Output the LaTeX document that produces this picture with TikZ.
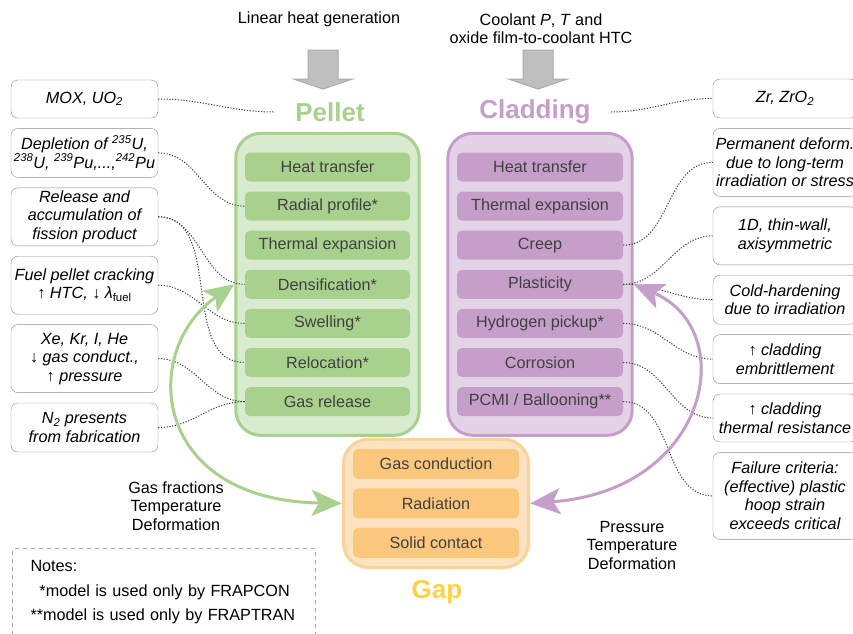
\documentclass[tikz,border=0pt]{standalone}
\usepackage{fontspec}
\setmainfont{Liberation Sans}
\usepackage{xcolor}
\usepackage{tikz}
\usetikzlibrary{arrows.meta,positioning,fit,backgrounds}

\definecolor{pelletgreen}{HTML}{A9D18E}
\definecolor{pelletbg}{HTML}{D9EBCE}
\definecolor{cladpurple}{HTML}{C59FCA}
\definecolor{cladbg}{HTML}{E4D3E7}
\definecolor{gaporange}{HTML}{FBC77C}
\definecolor{gapbg}{HTML}{FDE3C1}
\definecolor{gapline}{HTML}{FBD396}
\definecolor{gapyellow}{HTML}{FFD23F}
\definecolor{itemtext}{HTML}{404040}

\begin{document}
\begin{tikzpicture}[
  x=1pt, y=-1pt,
  node distance=10pt,
  fact/.style={draw=gray!90, rounded corners=7pt, align=center, inner xsep=2pt,
               inner ysep=2pt, font=\fontsize{16.2}{18.5}\selectfont\itshape},
  leftfact/.style={fact, minimum width=147pt},
  rightfact/.style={fact, minimum width=144pt},
  item/.style={rounded corners=5pt, minimum height=29pt, inner sep=0pt,
               text=itemtext, font=\fontsize{16.2}{18.5}\selectfont},
  pitem/.style={item, fill=pelletgreen, minimum width=165pt},
  citem/.style={item, fill=cladpurple, minimum width=166pt},
  gitem/.style={item, fill=gaporange, minimum width=166pt, minimum height=30pt},
  panel/.style={rounded corners=25pt, line width=3pt, inner xsep=9pt, inner ysep=19pt},
  title/.style={font=\fontsize{26}{30}\selectfont\bfseries, inner xsep=20pt},
  lbl/.style={align=center, font=\fontsize{16.2}{18.5}\selectfont},
  link/.style={dash pattern=on 1.2pt off 1.6pt, line width=1pt, draw=black!75},
  flow/.style={{Stealth[length=30pt,width=26pt,inset=7pt]}-{Stealth[length=30pt,width=26pt,inset=7pt]},
               line width=3pt},
  blockarrow/.style={fill=gray!50, draw=gray!65, line width=1pt},
  notes/.style={draw=gray!70, line width=1pt, dash pattern=on 4pt off 4pt, align=left,
                text width=267pt, font=\fontsize{16.2}{18.5}\selectfont},
]
\useasboundingbox (0,0) rectangle (853,633);

% inputs on top
\node[lbl] (heatlbl) at (319,19) {Linear heat generation};
\node[lbl] (coollbl) at (541,28.5) {Coolant \textit{P}, \textit{T} and\\oxide film-to-coolant HTC};
\foreach \cx in {323,538}
  \draw[blockarrow] (\cx-15,50) -- (\cx+15,50) -- (\cx+15,79) -- (\cx+29.5,79)
    -- (\cx,89) -- (\cx-29.5,79) -- (\cx-15,79) -- cycle;

% titles
\node[title, text=pelletgreen] (ptitle) at (330,112) {Pellet};
\node[title, text=cladpurple] (ctitle) at (535,112) {Cladding};
\node[title, text=gapyellow] (gtitle) at (437,592) {Gap};

% pellet models
\node[pitem] (p1) at (327.5,167) {Heat transfer};
\node[pitem, below=9.7pt of p1] (p2) {Radial profile*};
\node[pitem, below=9.7pt of p2] (p3) {Thermal expansion};
\node[pitem, below=9.7pt of p3] (p4) {Densification*};
\node[pitem, below=9.7pt of p4] (p5) {Swelling*};
\node[pitem, below=9.7pt of p5] (p6) {Relocation*};
\node[pitem, below=9.7pt of p6] (p7) {Gas release};

% cladding models
\node[citem] (c1) at (540,167) {Heat transfer};
\node[citem, below=9.7pt of c1] (c2) {Thermal expansion};
\node[citem, below=9.7pt of c2] (c3) {Creep};
\node[citem, below=9.7pt of c3] (c4) {Plasticity};
\node[citem, below=9.7pt of c4] (c5) {Hydrogen pickup*};
\node[citem, below=9.7pt of c5] (c6) {Corrosion};
\node[citem, below=9.7pt of c6] (c7) {PCMI / Ballooning**};

% gap models
\node[gitem] (g1) at (436,464) {Gas conduction};
\node[gitem, below=9pt of g1] (g2) {Radiation};
\node[gitem, below=9pt of g2] (g3) {Solid contact};

\begin{scope}[on background layer]
\fill[white] (0,0) rectangle (853,633);
\node[panel, draw=pelletgreen, fill=pelletbg, fit=(p1)(p7)] (pellet) {};
\node[panel, draw=cladpurple, fill=cladbg, fit=(c1)(c7)] (clad) {};
\node[panel, draw=gapline, fill=gapbg, fit=(g1)(g3), inner sep=9.5pt] (gap) {};
\end{scope}

% pellet facts
\node[leftfact, minimum height=38pt] (mox) at (84.5,99) {MOX, UO\textsubscript{2}};
\node[leftfact, minimum height=49pt, below=of mox] (depl)
  {Depletion of \textsuperscript{235}U,\\\textsuperscript{238}U, \textsuperscript{239}Pu,...,\textsuperscript{242}Pu};
\node[leftfact, minimum height=58pt, below=of depl] (fprod) {Release and\\accumulation of\\fission product};
\node[leftfact, minimum height=58pt, below=of fprod] (crack)
  {Fuel pellet cracking\\↑ HTC, ↓ λ\textsubscript{\upshape fuel}};
\node[leftfact, minimum height=68pt, below=of crack] (gases) {Xe, Kr, I, He\\↓ gas conduct.,\\↑ pressure};
\node[leftfact, minimum height=49pt, below=of gases] (nitro) {N\textsubscript{2} presents\\from fabrication};

% cladding facts
\node[rightfact, minimum height=39pt] (zr) at (785,98.5) {Zr, ZrO\textsubscript{2}};
\node[rightfact, minimum height=68pt, below=of zr] (perm)
  {Permanent deform.\\due to long-term\\irradiation or stress};
\node[rightfact, minimum height=58pt, below=of perm] (thin) {1D, thin-wall,\\axisymmetric};
\node[rightfact, minimum height=49pt, below=of thin] (cold) {Cold-hardening\\due to irradiation};
\node[rightfact, minimum height=49pt, below=of cold] (embr) {↑ cladding\\embrittlement};
\node[rightfact, minimum height=48pt, below=of embr] (therm) {↑ cladding\\thermal resistance};
\node[rightfact, minimum height=87pt, below=of therm] (fail)
  {Failure criteria:\\(effective) plastic\\hoop strain\\exceeds critical};

% exchanged quantities
\node[lbl] (gaslbl) at (176,506) {Gas fractions\\Temperature\\Deformation};
\node[lbl] (preslbl) at (632,545) {Pressure\\Temperature\\Deformation};

\node[notes, anchor=north west, minimum width=303pt, minimum height=88pt] (notes) at (12,548)
  {Notes:\\[6pt]\hspace*{9pt}*model is used only by FRAPCON\\[6pt]**model is used only by FRAPTRAN};

% dotted links
\draw[link] (mox.east) to[out=0,in=180] (ptitle.west);
\draw[link] (depl.east) to[out=0,in=180] (p2.west);
\draw[link] (fprod.east) to[out=0,in=180] (p4.west);
\draw[link] (fprod.east) to[out=0,in=180] (p6.west);
\draw[link] (crack.east) to[out=0,in=180] (p5.west);
\draw[link] (gases.east) to[out=0,in=180] (p7.west);
\draw[link] (nitro.east) to[out=0,in=180] (p7.west);
\draw[link] (ctitle.east) to[out=0,in=180] (zr.west);
\draw[link] (c3.east) to[out=0,in=180] (perm.west);
\draw[link] (c4.east) to[out=0,in=180] (thin.west);
\draw[link] (c4.east) to[out=0,in=180] (cold.west);
\draw[link] (c5.east) to[out=0,in=180] (embr.west);
\draw[link] (c6.east) to[out=0,in=180] (therm.west);
\draw[link] (c7.east) to[out=0,in=180] (fail.west);

% coupling with the gap
\draw[flow, pelletgreen] (pellet.west |- p4) .. controls (140,350) and (150,500) .. (gap.west);
\draw[flow, cladpurple] (clad.east |- c4) .. controls (740,330) and (710,490) .. (gap.east);
\end{tikzpicture}
\end{document}
